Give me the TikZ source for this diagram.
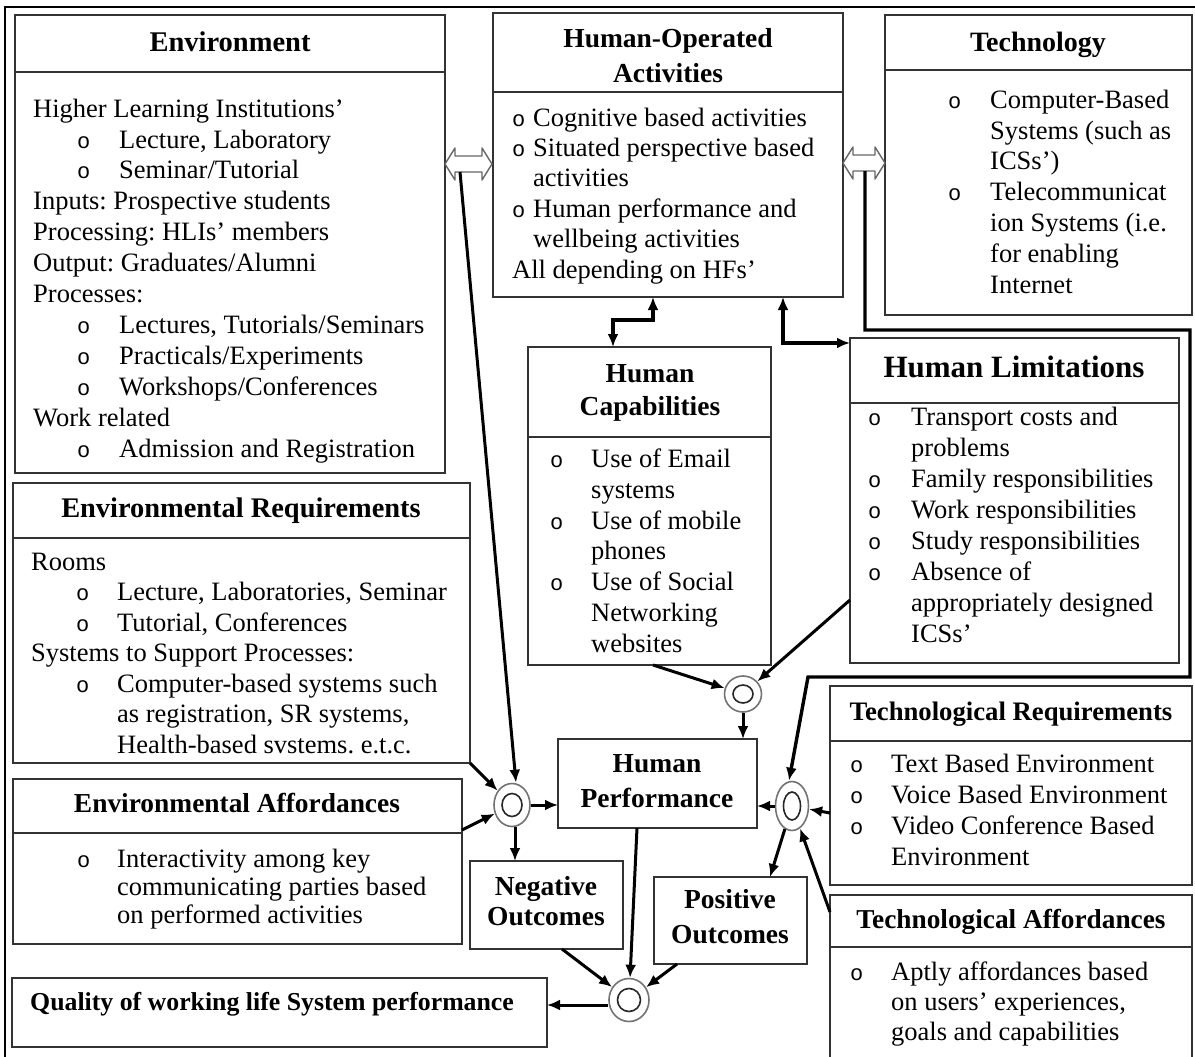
\documentclass[tikz,border=0pt]{standalone}
\usepackage{fontspec}
\setmainfont{Liberation Serif}
\newfontfamily\monof{Liberation Mono}
\usetikzlibrary{arrows.meta,shapes.geometric,calc}
\frenchspacing
\newcommand{\bul}{{\monof\fontsize{22}{22}\selectfont o}}
\newcommand{\bi}[2]{\makebox[#1][l]{\bul}#2}
\newcommand{\ci}[2]{\hspace*{#1}#2}
\newcommand{\boxdiv}[2]{\draw[divl] (#1.west |- 0,#2) -- (#1.east |- 0,#2);}
\begin{document}
\begin{tikzpicture}[x=1pt,y=-1pt,
  frame/.style={draw=black!80, line width=1.4pt, inner sep=0pt, outer sep=0pt, anchor=north west, rectangle},
  divl/.style={draw=black!80, line width=1.4pt},
  ttl/.style={font=\bfseries\fontsize{27.5}{34}\selectfont, align=center, anchor=base, inner sep=0pt},
  txt/.style={font=\fontsize{26.5}{31}\selectfont, align=left, anchor=base west, inner sep=0pt},
  conn/.style={line width=3pt, -{Latex[length=13pt,width=11pt]}},
  conn2/.style={line width=3.4pt, {Latex[length=13pt,width=11pt]}-{Latex[length=13pt,width=11pt]}},
  junc/.style={ellipse, draw=black!55, line width=1.6pt, inner sep=0pt, fill=white},
  jin/.style={draw=black!85, line width=1.6pt},
  harrow/.style={draw=black!60, fill=white, line width=1.4pt, line join=round}
]
\useasboundingbox (0,0) rectangle (1195,1057);
\clip (0,0) rectangle (1195,1057);

% outer frame
\draw[line width=2.8pt] (5,1100) -- (5,7) -- (1200,7);

% ---------- boxes ----------
\node[frame, minimum width=430, minimum height=458] (env) at (15,15) {};
\boxdiv{env}{72}
\node[frame, minimum width=350, minimum height=284] (hoa) at (493,13) {};
\boxdiv{hoa}{92}
\node[frame, minimum width=307, minimum height=300] (tech) at (885,15) {};
\boxdiv{tech}{70}
\node[frame, minimum width=243, minimum height=318] (hc) at (528,347) {};
\boxdiv{hc}{437}
\node[frame, minimum width=329, minimum height=325] (hl) at (850,338) {};
\boxdiv{hl}{403}
\node[frame, minimum width=457, minimum height=280] (er) at (13,483) {};
\boxdiv{er}{538}
\node[frame, minimum width=449, minimum height=165] (ea) at (13,779) {};
\boxdiv{ea}{833}
\node[frame, minimum width=362, minimum height=199] (tr) at (830,686) {};
\boxdiv{tr}{741}
\node[frame, minimum width=362, minimum height=210] (ta) at (830,895) {};
\boxdiv{ta}{947}
\node[frame, minimum width=199, minimum height=89] (hp) at (558,739) {};
\node[frame, minimum width=153, minimum height=88] (no) at (470,861) {};
\node[frame, minimum width=153, minimum height=87] (po) at (654,877) {};
\node[frame, minimum width=535, minimum height=69] (q) at (12,978) {};

% ---------- titles (anchor = baseline of last line) ----------
\node[ttl, font=\bfseries\fontsize{28.5}{34}\selectfont] (envT) at (230,52) {Environment};
\node[ttl, font=\bfseries\fontsize{27.5}{35}\selectfont] (hoaT) at (668,82) {Human-Operated\\Activities};
\node[ttl, font=\bfseries\fontsize{28}{34}\selectfont] (techT) at (1038,52) {Technology};
\node[ttl, font=\bfseries\fontsize{27.5}{33}\selectfont] (hcT) at (650,415) {Human\\Capabilities};
\node[ttl, font=\bfseries\fontsize{31}{34}\selectfont] (hlT) at (1014,377) {Human Limitations};
\node[ttl, font=\bfseries\fontsize{28.4}{34}\selectfont] (erT) at (241,517) {Environmental Requirements};
\node[ttl, font=\bfseries\fontsize{27.4}{34}\selectfont] (eaT) at (237,812) {Environmental Affordances};
\node[ttl, font=\bfseries\fontsize{26.7}{34}\selectfont] (trT) at (1011,720) {Technological Requirements};
\node[ttl, font=\bfseries\fontsize{27.3}{34}\selectfont] (taT) at (1011,928) {Technological Affordances};
\node[ttl, font=\bfseries\fontsize{27.5}{35}\selectfont] (hpT) at (657,807) {Human\\Performance};
\node[ttl, font=\bfseries\fontsize{27.5}{30.5}\selectfont] (noT) at (546,925.5) {Negative\\Outcomes};
\node[ttl, font=\bfseries\fontsize{27.5}{35}\selectfont] (poT) at (730,943) {Positive\\Outcomes};
\node[ttl, anchor=base west, font=\bfseries\fontsize{25.8}{34}\selectfont] (qT) at (30,1010) {Quality of working life System performance};

% ---------- body texts (anchor = baseline of last line) ----------
\node[txt, font=\fontsize{26.5}{30.9}\selectfont] (envB) at (33,457) {Higher Learning Institutions’\\
\ci{44pt}{\bi{42pt}{Lecture, Laboratory}}\\
\ci{44pt}{\bi{42pt}{Seminar/Tutorial}}\\
Inputs: Prospective students\\
Processing: HLIs’ members\\
Output: Graduates/Alumni\\
Processes:\\
\ci{44pt}{\bi{42pt}{Lectures, Tutorials/Seminars}}\\
\ci{44pt}{\bi{42pt}{Practicals/Experiments}}\\
\ci{44pt}{\bi{42pt}{Workshops/Conferences}}\\
Work related\\
\ci{44pt}{\bi{42pt}{Admission and Registration}}};

\node[txt, font=\fontsize{26.5}{30.4}\selectfont] (hoaB) at (512,278) {\bi{21pt}{Cognitive based activities}\\
\bi{21pt}{Situated perspective based}\\
\ci{21pt}{activities}\\
\bi{21pt}{Human performance and}\\
\ci{21pt}{wellbeing activities}\\
All depending on HFs’};

\node[txt, font=\fontsize{26.5}{30.8}\selectfont] (techB) at (948,293) {\bi{42pt}{Computer-Based}\\
\ci{42pt}{Systems (such as}\\
\ci{42pt}{ICSs’)}\\
\bi{42pt}{Telecommunicat}\\
\ci{42pt}{ion Systems (i.e.}\\
\ci{42pt}{for enabling}\\
\ci{42pt}{Internet}};

\node[txt, font=\fontsize{26.5}{30.7}\selectfont] (hcB) at (550,652) {\bi{41pt}{Use of Email}\\
\ci{41pt}{systems}\\
\bi{41pt}{Use of mobile}\\
\ci{41pt}{phones}\\
\bi{41pt}{Use of Social}\\
\ci{41pt}{Networking}\\
\ci{41pt}{websites}};

\node[txt, font=\fontsize{26.5}{31}\selectfont] (hlB) at (868,642) {\bi{43pt}{Transport costs and}\\
\ci{43pt}{problems}\\
\bi{43pt}{Family responsibilities}\\
\bi{43pt}{Work responsibilities}\\
\bi{43pt}{Study responsibilities}\\
\bi{43pt}{Absence of}\\
\ci{43pt}{appropriately designed}\\
\ci{43pt}{ICSs’}};

\node[txt, font=\fontsize{26.5}{30.5}\selectfont] (erB) at (31,753) {Rooms\\
\ci{45pt}{\bi{41pt}{Lecture, Laboratories, Seminar}}\\
\ci{45pt}{\bi{41pt}{Tutorial, Conferences}}\\
Systems to Support Processes:\\
\ci{45pt}{\bi{41pt}{Computer-based systems such}}\\
\ci{86pt}{as registration, SR systems,}\\
\ci{86pt}{Health-based svstems. e.t.c.}};

\node[txt, font=\fontsize{26.5}{28}\selectfont] (eaB) at (77,923) {\bi{40pt}{Interactivity among key}\\
\ci{40pt}{communicating parties based}\\
\ci{40pt}{on performed activities}};

\node[txt, font=\fontsize{26.5}{31}\selectfont] (trB) at (850,865) {\bi{41pt}{Text Based Environment}\\
\bi{41pt}{Voice Based Environment}\\
\bi{41pt}{Video Conference Based}\\
\ci{41pt}{Environment}};

\node[txt, font=\fontsize{26.5}{30}\selectfont] (taB) at (850,1040) {\bi{41pt}{Aptly affordances based}\\
\ci{41pt}{on users’ experiences,}\\
\ci{41pt}{goals and capabilities}};

% ---------- hollow double arrows ----------
\draw[harrow] (445,164) -- (455,148) -- (455,156) -- (482,156) -- (482,148) -- (492,164)
  -- (482,180) -- (482,172) -- (455,172) -- (455,180) -- cycle;
\draw[harrow] (843,163) -- (853,147) -- (853,155) -- (875,155) -- (875,147) -- (885,163)
  -- (875,179) -- (875,171) -- (853,171) -- (853,179) -- cycle;
\coordinate (da1) at (460,172);
\coordinate (da2) at (865,171);

% ---------- junctions ----------
\node[junc, minimum width=37, minimum height=36] (c1) at (743,694) {};
\draw[jin] (c1.center) ellipse [x radius=10, y radius=9];
\node[junc, minimum width=36, minimum height=43] (c2) at (512,805) {};
\draw[jin] (c2.center) ellipse [x radius=10, y radius=11.5];
\node[junc, minimum width=33, minimum height=49] (c3) at (792,806) {};
\draw[jin] (c3.center) ellipse [x radius=8.5, y radius=14];
\node[junc, minimum width=40, minimum height=43] (c4) at (629,1000) {};
\draw[jin] (c4.center) ellipse [x radius=11.5, y radius=11.5];

% ---------- connectors ----------
\draw[conn] (da1) -- ([xshift=4pt]c2.north);
\coordinate (t1) at (865,330);
\coordinate (t2) at (1190,330);
\coordinate (t3) at (1190,677);
\coordinate (t4) at (808,677);
\draw[conn, line width=3.4pt] (da2) -- (t1) -- (t2) -- (t3) -- (t4) -- ([xshift=-3pt]c3.north);

\draw[conn2] (653,0 |- hoa.south) -- (653,320) -- (613,320) -- (613,0 |- hc.north);
\draw[conn2] (783,0 |- hoa.south) -- (783,343) -- (hl.west |- 0,343);

\draw[conn] (653,0 |- hc.south) -- (c1);
\draw[conn] (hl.west |- 0,600) -- (c1);
\draw[conn] (c1) -- (c1 |- hp.north);

\draw[conn] (c2.east) -- (c2 -| hp.west);
\draw[conn] ([xshift=3pt]c2.south) -- ([xshift=3pt]c2.south |- no.north);
\draw[conn] (er.south east) -- (c2);
\draw[conn] (ea.east |- 0,830) -- (c2);

\draw[conn] (c3.west) -- (c3 -| hp.east);
\draw[conn] (tr.west |- 0,813) -- (c3);
\draw[conn] (c3) -- (770,0 |- po.north);
\draw[conn] (ta.west |- 0,912) -- (c3);

\draw[conn] (637,0 |- hp.south) -- (c4);
\draw[conn] (562,0 |- no.south) -- (c4);
\draw[conn] (677,0 |- po.south) -- (c4);
\draw[conn] ([yshift=-5pt]c4.west) -- ([yshift=-5pt]c4.west -| q.east);
\end{tikzpicture}
\end{document}
